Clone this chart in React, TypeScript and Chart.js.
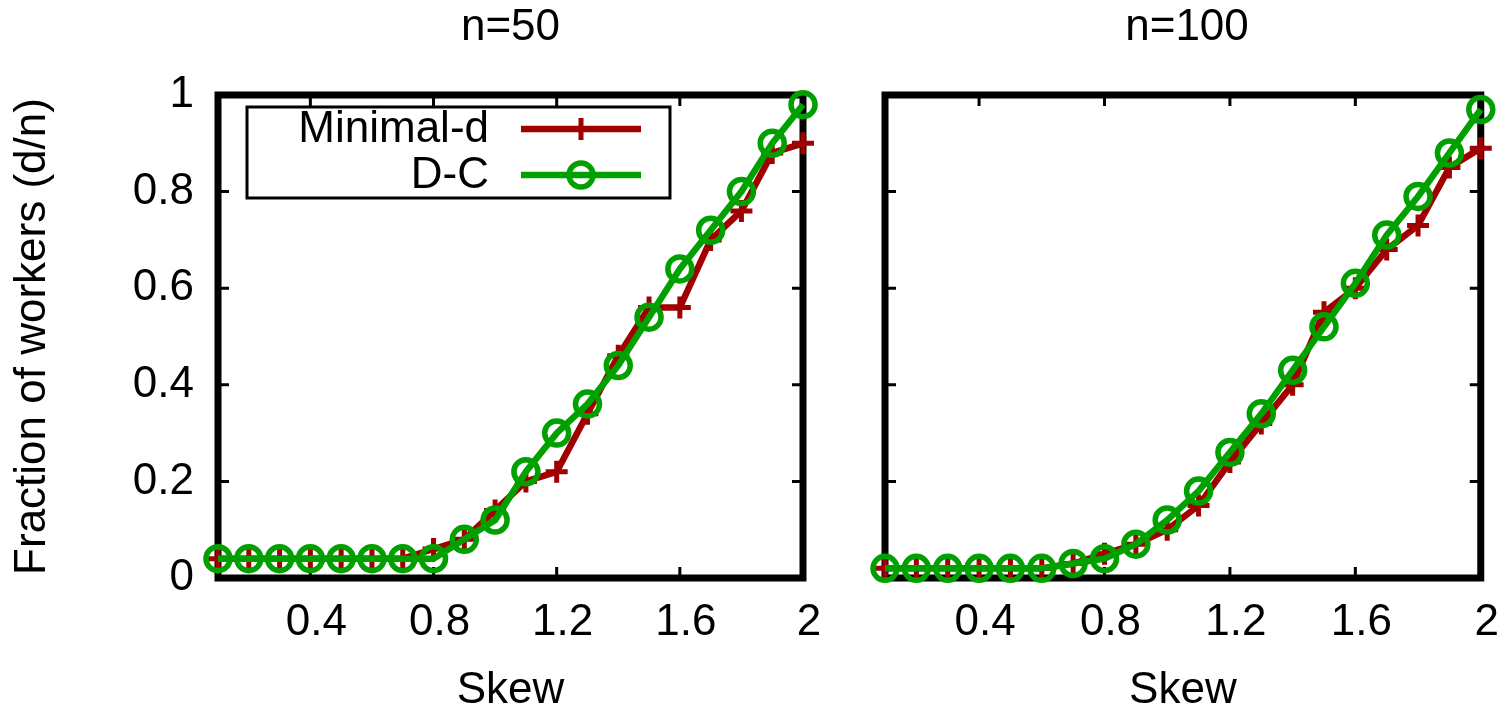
import React, { useEffect, useRef } from 'react';
import { Chart, registerables } from 'chart.js';

Chart.register(...registerables);

// ---- data ----
const skew = [0.1, 0.2, 0.3, 0.4, 0.5, 0.6, 0.7, 0.8, 0.9, 1.0, 1.1, 1.2, 1.3, 1.4, 1.5, 1.6, 1.7, 1.8, 1.9, 2.0];
const xTickValues = [0.4, 0.8, 1.2, 1.6, 2.0];
const yTickValues = [0, 0.2, 0.4, 0.6, 0.8, 1];
const seriesNames = ['Minimal-d', 'D-C'];
const panelTitles = ['n=50', 'n=100'];
const xAxisTitle = 'Skew';
const yAxisTitle = 'Fraction of workers (d/n)';

const minimalD50 = [0.04, 0.04, 0.04, 0.04, 0.04, 0.04, 0.04, 0.06, 0.08, 0.14, 0.2, 0.22, 0.34, 0.46, 0.56, 0.56, 0.7, 0.76, 0.88, 0.9];
const dc50 = [0.04, 0.04, 0.04, 0.04, 0.04, 0.04, 0.04, 0.04, 0.08, 0.12, 0.22, 0.3, 0.36, 0.44, 0.54, 0.64, 0.72, 0.8, 0.9, 0.98];
const minimalD100 = [0.02, 0.02, 0.02, 0.02, 0.02, 0.02, 0.03, 0.05, 0.07, 0.1, 0.15, 0.24, 0.32, 0.4, 0.55, 0.6, 0.68, 0.73, 0.85, 0.89];
const dc100 = [0.02, 0.02, 0.02, 0.02, 0.02, 0.02, 0.03, 0.04, 0.07, 0.12, 0.18, 0.26, 0.34, 0.43, 0.52, 0.61, 0.71, 0.79, 0.88, 0.97];

// ---- style ----
const FONT = "'Liberation Sans', Arial, sans-serif";
const RED = '#a00000';
const GREEN = '#00a000';
const FS = 44;
const H = 711;

const font = { family: FONT, size: FS, weight: 'normal' as const, lineHeight: 1.2 };

const framePlugin = {
  id: 'gnuFrame',
  beforeDatasetsDraw(chart: any) {
    const { ctx, chartArea: a, scales } = chart;
    const xs = scales.x;
    const ys = scales.y;
    const L = 11;
    ctx.save();
    ctx.strokeStyle = '#000';
    ctx.lineWidth = 3;
    ctx.beginPath();
    xs.ticks.forEach((t: any) => {
      const px = xs.getPixelForValue(t.value);
      ctx.moveTo(px, a.bottom);
      ctx.lineTo(px, a.bottom - L);
      ctx.moveTo(px, a.top);
      ctx.lineTo(px, a.top + L);
    });
    ys.ticks.forEach((t: any) => {
      const py = ys.getPixelForValue(t.value);
      ctx.moveTo(a.left, py);
      ctx.lineTo(a.left + L, py);
      ctx.moveTo(a.right, py);
      ctx.lineTo(a.right - L, py);
    });
    ctx.stroke();
    ctx.lineWidth = 7;
    ctx.strokeRect(a.left, a.top, a.right - a.left, a.bottom - a.top);
    ctx.restore();
  },
};

const legendPlugin = {
  id: 'boxLegend',
  afterDatasetsDraw(chart: any) {
    const ctx = chart.ctx;
    ctx.save();
    ctx.strokeStyle = '#000';
    ctx.lineWidth = 3;
    ctx.strokeRect(247, 107, 423, 91);
    ctx.font = `${FS}px ${FONT}`;
    ctx.textAlign = 'right';
    ctx.textBaseline = 'middle';
    ctx.fillStyle = '#000';
    const rowsY = [129, 175];
    chart.data.datasets.forEach((ds: any, i: number) => {
      const y = rowsY[i];
      ctx.fillText(ds.label, 489, y + 1);
      ctx.strokeStyle = ds.borderColor;
      ctx.lineWidth = ds.borderWidth;
      ctx.beginPath();
      ctx.moveTo(521, y);
      ctx.lineTo(641, y);
      ctx.stroke();
      const cx = 581;
      ctx.lineWidth = ds.pointBorderWidth;
      ctx.beginPath();
      if (ds.pointStyle === 'cross') {
        const r = ds.pointRadius;
        ctx.moveTo(cx - r, y);
        ctx.lineTo(cx + r, y);
        ctx.moveTo(cx, y - r);
        ctx.lineTo(cx, y + r);
      } else {
        ctx.arc(cx, y, ds.pointRadius, 0, Math.PI * 2);
      }
      ctx.stroke();
    });
    ctx.restore();
  },
};

type PanelProps = {
  left: number;
  width: number;
  title: string;
  minimal: number[];
  dc: number[];
  yAxisWidth: number;
  showY: boolean;
  legend: boolean;
};

function Panel({ left, width, title, minimal, dc, yAxisWidth, showY, legend }: PanelProps) {
  const ref = useRef<HTMLCanvasElement>(null);
  useEffect(() => {
    const chart = new Chart(ref.current as HTMLCanvasElement, {
      type: 'line',
      data: {
        datasets: [
          {
            label: seriesNames[0],
            data: skew.map((x, i) => ({ x, y: minimal[i] })),
            borderColor: RED,
            backgroundColor: RED,
            borderWidth: 6.5,
            pointStyle: 'cross',
            pointRadius: 11,
            pointBorderWidth: 5,
            pointBorderColor: RED,
            pointBackgroundColor: RED,
            order: 2,
            clip: false,
          } as any,
          {
            label: seriesNames[1],
            data: skew.map((x, i) => ({ x, y: dc[i] })),
            borderColor: GREEN,
            backgroundColor: GREEN,
            borderWidth: 6.5,
            pointStyle: 'circle',
            pointRadius: 12,
            pointBorderWidth: 5.5,
            pointBorderColor: GREEN,
            pointBackgroundColor: 'rgba(0,0,0,0)',
            order: 1,
            clip: false,
          } as any,
        ],
      },
      options: {
        responsive: false,
        animation: false,
        devicePixelRatio: 1,
        layout: { padding: 0 },
        plugins: {
          legend: { display: false },
          tooltip: { enabled: false },
          title: {
            display: true,
            text: title,
            color: '#000',
            font,
            padding: { top: 1.6, bottom: 40.6 },
          },
        },
        scales: {
          x: {
            type: 'linear',
            min: 0.1,
            max: 2.0,
            afterBuildTicks: (s: any) => {
              s.ticks = xTickValues.map((v) => ({ value: v }));
            },
            afterFit: (s: any) => {
              s.height = 133;
            },
            grid: { display: false, drawTicks: false },
            border: { display: false },
            ticks: {
              color: '#000',
              font,
              padding: 18,
              labelOffset: 6,
              maxRotation: 0,
              autoSkip: false,
              callback: (v: any) => String(v),
            },
            title: {
              display: true,
              text: xAxisTitle,
              color: '#000',
              font,
              padding: { top: 0, bottom: -6 },
            },
          },
          y: {
            type: 'linear',
            position: 'left',
            min: 0,
            max: 1,
            afterBuildTicks: (s: any) => {
              s.ticks = yTickValues.map((v) => ({ value: v }));
            },
            afterFit: (s: any) => {
              s.width = yAxisWidth;
            },
            grid: { display: false, drawTicks: false },
            border: { display: false },
            ticks: {
              display: showY,
              color: '#000',
              font,
              padding: 24,
              callback: (v: any) => String(v),
            },
            title: {
              display: showY,
              text: yAxisTitle,
              color: '#000',
              font,
              padding: { top: 6.6, bottom: 0 },
            },
          },
          yMirror: {
            type: 'linear',
            position: 'right',
            min: 0,
            max: 1,
            afterFit: (s: any) => {
              s.width = yAxisWidth;
            },
            grid: { display: false, drawTicks: false },
            border: { display: false },
            ticks: { display: false },
          },
        },
      } as any,
      plugins: legend ? [framePlugin, legendPlugin] : [framePlugin],
    });
    return () => chart.destroy();
  }, []);
  return (
    <canvas
      ref={ref}
      width={width}
      height={H}
      style={{ position: 'absolute', left, top: 0, width, height: H }}
    />
  );
}

export default function App() {
  return (
    <div
      style={{
        position: 'fixed',
        left: 0,
        top: 0,
        width: 1511,
        height: H,
        overflow: 'hidden',
        background: '#fff',
      }}
    >
      <Panel left={0} width={1021} title={panelTitles[0]} minimal={minimalD50} dc={dc50} yAxisWidth={218} showY={true} legend={true} />
      <Panel left={863} width={648} title={panelTitles[1]} minimal={minimalD100} dc={dc100} yAxisWidth={22} showY={false} legend={false} />
    </div>
  );
}
